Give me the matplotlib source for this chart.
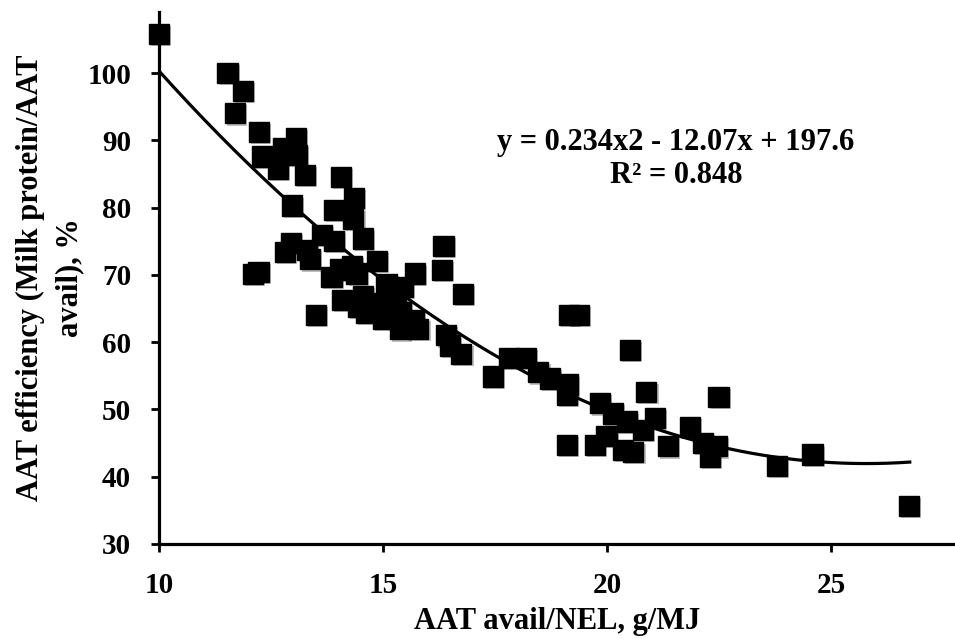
import numpy as np
import matplotlib
matplotlib.use('Agg')
import matplotlib.pyplot as plt
import matplotlib.patheffects as pe

# AAT avail/NEL (g/MJ) vs AAT efficiency (%)
aat_nel = [10.0, 11.53, 11.88, 11.70, 12.23, 13.06, 12.78, 13.07, 12.31, 12.65,
           13.26, 14.06, 14.36, 12.97, 13.91, 14.34, 13.63, 13.90, 14.56, 12.95,
           12.81, 13.30, 13.37, 13.85, 12.10, 12.22, 14.04, 14.30, 14.86, 14.41,
           15.71, 16.31, 16.35, 16.78, 15.08, 15.45, 14.08, 14.56, 14.93, 15.30,
           14.63, 15.00, 15.41, 15.68, 15.79, 15.38, 13.50, 14.45, 16.40, 16.50,
           16.75, 17.46, 17.82, 18.20, 18.47, 18.73, 19.13, 19.10, 19.84, 20.14,
           20.44, 20.51, 19.15, 19.37, 19.10, 19.73, 19.99, 20.36, 20.88, 22.49,
           21.07, 20.81, 21.85, 20.59, 21.37, 22.15, 22.30, 22.45, 23.79, 24.59,
           26.74]
efficiency = [105.8, 100.0, 97.3, 94.0, 91.2, 90.3, 88.9, 87.8, 87.6, 85.8,
              84.9, 84.6, 81.4, 80.3, 79.7, 78.3, 75.9, 75.0, 75.4, 74.8,
              73.4, 73.7, 72.3, 69.7, 70.1, 70.4, 70.8, 71.3, 72.1, 70.2,
              70.2, 70.7, 74.3, 67.2, 68.7, 68.2, 66.3, 66.8, 65.8, 66.3,
              64.3, 63.5, 64.5, 63.3, 62.0, 61.9, 64.0, 65.3, 61.0, 59.5,
              58.2, 54.9, 57.7, 57.7, 55.5, 54.6, 53.7, 52.1, 50.9, 49.4,
              48.2, 58.8, 64.0, 64.0, 44.7, 44.7, 46.0, 44.0, 52.6, 51.9,
              48.7, 46.9, 47.4, 43.7, 44.5, 45.0, 43.0, 44.5, 41.6, 43.3,
              35.7]

# trendline from the equation shown on the chart
coef = [0.234, -12.07, 197.6]
fit_range = [10.0, 26.76]

x_ticks = [10, 15, 20, 25]
y_ticks = [30, 40, 50, 60, 70, 80, 90, 100]

plt.rcParams['font.family'] = ['Liberation Serif', 'DejaVu Serif']
plt.rcParams['font.weight'] = 'bold'

fig = plt.figure(figsize=(9.55, 6.39), dpi=100)
ax = fig.add_axes([0.1665, 0.1487, 0.8335, 0.8323])

xs = np.linspace(fit_range[0], fit_range[1], 200)
ax.plot(xs, np.polyval(coef, xs), color='black', lw=2.3, zorder=2)

ax.plot(aat_nel, efficiency, linestyle='none', marker='s', ms=14.5,
        color='black', clip_on=False, zorder=4,
        path_effects=[pe.SimplePatchShadow(offset=(1.5, -1.5), alpha=0.25),
                      pe.Normal()])

ax.set_xlim(10, 27.77)
ax.set_ylim(30, 109.05)
ax.set_xticks(x_ticks)
ax.set_yticks(y_ticks)

for s in ['top', 'right']:
    ax.spines[s].set_visible(False)
for s in ['left', 'bottom']:
    ax.spines[s].set_linewidth(2.3)
ax.tick_params(direction='out', length=6, width=2, labelsize=21)
ax.tick_params(axis='y', pad=14)
ax.tick_params(axis='x', pad=14)

ax.set_xlabel('AAT avail/NEL, g/MJ', fontsize=22, fontweight='bold', labelpad=6)
ax.set_ylabel('AAT efficiency (Milk protein/AAT\navail), %', fontsize=22,
              fontweight='bold', labelpad=2, linespacing=1.5)

ax.text(676, 639 - 159, 'y = 0.234x2 - 12.07x + 197.6\nR² = 0.848',
        transform=None, ha='center', va='center', fontsize=22,
        fontweight='bold', linespacing=1.2)

fig.savefig('out.png', dpi=100)
